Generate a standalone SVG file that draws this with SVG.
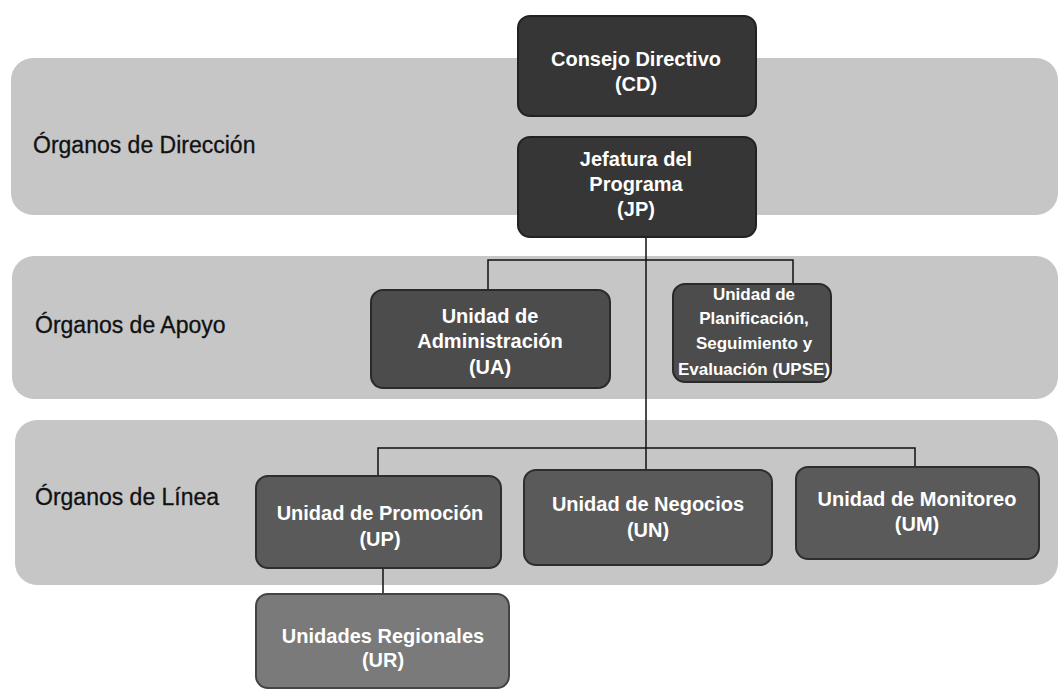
<svg xmlns="http://www.w3.org/2000/svg" width="1058" height="694" viewBox="0 0 1058 694">
<style>
.band{fill:#c6c6c6;}
.lbl{font-family:"Liberation Sans",Arial,sans-serif;font-size:23px;fill:#111;stroke:#111;stroke-width:0.3;}
.nt{font-family:"Liberation Sans",Arial,sans-serif;font-size:20px;font-weight:bold;fill:#fff;text-anchor:middle;}
.sm{font-size:17px;}
.n1{fill:#363636;stroke:#222;stroke-width:2;}
.n2{fill:#4c4c4c;stroke:#2a2a2a;stroke-width:2;}
.n3{fill:#5a5a5a;stroke:#2e2e2e;stroke-width:2;}
.n4{fill:#7a7a7a;stroke:#444;stroke-width:2;}
.conn{fill:none;stroke:#111;stroke-width:1.5;}
</style>
<rect width="1058" height="694" fill="#fff"/>
<g id="bands">
<rect class="band" x="11" y="58" width="1047" height="157" rx="22"/>
<rect class="band" x="12" y="256" width="1046" height="143" rx="22"/>
<rect class="band" x="15" y="420" width="1043" height="165" rx="22"/>
<text class="lbl" x="33" y="153">Órganos de Dirección</text>
<text class="lbl" x="35" y="333">Órganos de Apoyo</text>
<text class="lbl" x="35" y="505">Órganos de Línea</text>
</g>
<g id="connectors">
<path class="conn" d="M646 237 V470"/>
<path class="conn" d="M488 290 V260 H793 V284"/>
<path class="conn" d="M378 476 V448 H915 V467"/>
<path class="conn" d="M383 568 V594"/>
</g>
<g id="CD">
<rect class="n1" x="518" y="16" width="238" height="100" rx="12"/>
<text class="nt" x="636" y="66">Consejo Directivo</text>
<text class="nt" x="636" y="91">(CD)</text>
</g>
<g id="JP">
<rect class="n1" x="518" y="137" width="238" height="100" rx="12"/>
<text class="nt" x="636" y="166">Jefatura del</text>
<text class="nt" x="636" y="191">Programa</text>
<text class="nt" x="636" y="216">(JP)</text>
</g>
<g id="UA">
<rect class="n2" x="371" y="290" width="239" height="98" rx="12"/>
<text class="nt" x="490" y="323">Unidad de</text>
<text class="nt" x="490" y="348">Administración</text>
<text class="nt" x="490" y="374">(UA)</text>
</g>
<g id="UPSE">
<rect class="n2" x="673" y="284" width="158" height="98" rx="12"/>
<text class="nt sm" x="754" y="300">Unidad de</text>
<text class="nt sm" x="754" y="324">Planificación,</text>
<text class="nt sm" x="754" y="349">Seguimiento y</text>
<text class="nt sm" x="754" y="375">Evaluación (UPSE)</text>
</g>
<g id="UP">
<rect class="n3" x="256" y="476" width="245" height="92" rx="12"/>
<text class="nt" x="380" y="520">Unidad de Promoción</text>
<text class="nt" x="380" y="546">(UP)</text>
</g>
<g id="UN">
<rect class="n3" x="524" y="470" width="248" height="95" rx="12"/>
<text class="nt" x="648" y="511">Unidad de Negocios</text>
<text class="nt" x="648" y="537">(UN)</text>
</g>
<g id="UM">
<rect class="n3" x="796" y="467" width="243" height="92" rx="12"/>
<text class="nt" x="917" y="506">Unidad de Monitoreo</text>
<text class="nt" x="917" y="531">(UM)</text>
</g>
<g id="UR">
<rect class="n4" x="256" y="594" width="253" height="94" rx="12"/>
<text class="nt" x="383" y="643">Unidades Regionales</text>
<text class="nt" x="383" y="667">(UR)</text>
</g>
</svg>
